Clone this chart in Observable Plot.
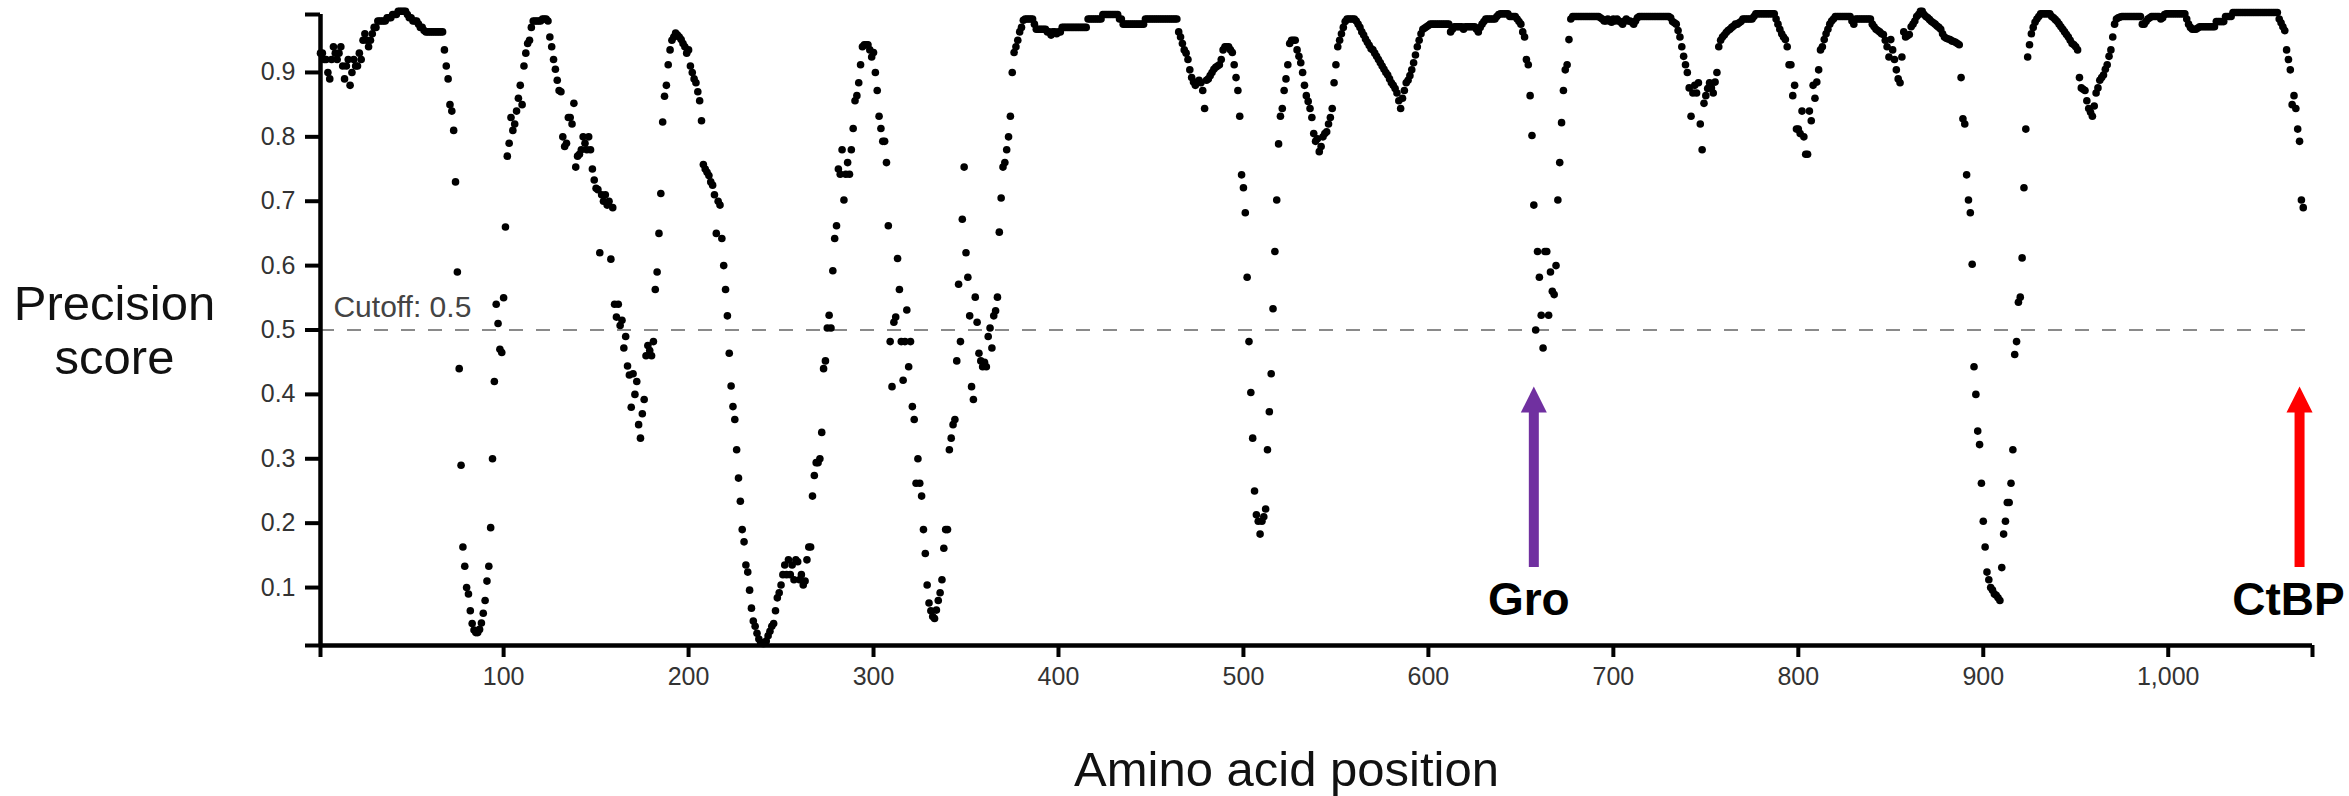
<!DOCTYPE html>
<html>
<head>
<meta charset="utf-8">
<script src="https://cdn.jsdelivr.net/npm/d3@7"></script>
<script src="https://cdn.jsdelivr.net/npm/@observablehq/plot@0.6"></script>
<style>
  html, body { margin: 0; padding: 0; background: #fff; }
  #chart svg { display: block; }
</style>
</head>
<body>
<div id="chart"></div>
<script>
// Precision score per amino acid position (position = index + 1)
const precision = [
.93,.93,.92,.92,.90,.89,.92,.94,.93,.92,
.93,.94,.91,.89,.91,.92,.88,.90,.92,.91,
.91,.93,.92,.95,.96,.95,.94,.95,.96,.97,
.97,.98,.98,.98,.98,.98,.985,.985,.985,.99,
.99,.99,.995,.995,.995,.995,.995,.99,.985,.985,
.98,.98,.98,.975,.97,.97,.965,.963,.963,.963,
.963,.963,.963,.963,.963,.963,.963,.935,.91,.89,
.85,.84,.81,.73,.59,.44,.29,.163,.133,.10,
.09,.064,.044,.034,.03,.03,.035,.045,.06,.08,
.11,.133,.193,.30,.42,.54,.51,.47,.465,.55,
.66,.77,.79,.83,.81,.82,.84,.86,.88,.85,
.91,.93,.945,.95,.97,.98,.98,.98,.98,.98,
.983,.983,.983,.98,.955,.94,.92,.905,.888,.872,
.87,.80,.785,.79,.83,.83,.82,.852,.753,.77,
.773,.78,.80,.79,.78,.80,.78,.75,.733,.72,
.718,.62,.71,.70,.71,.694,.70,.61,.69,.54,
.52,.54,.507,.515,.472,.49,.444,.43,.38,.432,
.40,.42,.353,.332,.37,.392,.46,.476,.468,.46,
.482,.563,.59,.65,.712,.823,.863,.88,.912,.935,
.95,.955,.961,.958,.955,.951,.945,.94,.93,.935,
.91,.90,.89,.884,.87,.856,.825,.757,.75,.745,
.74,.73,.725,.71,.65,.70,.694,.642,.60,.563,
.522,.464,.413,.381,.361,.314,.27,.234,.19,.171,
.135,.124,.096,.068,.048,.04,.029,.02,.015,.013,
.013,.017,.025,.032,.04,.044,.064,.084,.092,.104,
.12,.135,.12,.143,.12,.135,.112,.143,.14,.112,
.12,.104,.11,.143,.163,.163,.242,.274,.294,.294,
.30,.341,.44,.452,.503,.523,.503,.592,.642,.662,
.75,.742,.78,.702,.742,.76,.742,.78,.813,.856,
.864,.884,.912,.94,.943,.943,.943,.935,.924,.931,
.90,.872,.832,.813,.793,.793,.76,.662,.482,.412,
.512,.52,.611,.563,.482,.422,.482,.531,.443,.482,
.381,.361,.262,.30,.262,.242,.19,.153,.104,.076,
.064,.055,.052,.065,.08,.092,.112,.161,.19,.19,
.314,.332,.353,.361,.452,.571,.482,.672,.753,.62,
.582,.522,.412,.392,.551,.512,.464,.452,.443,.45,
.443,.49,.503,.472,.522,.53,.551,.652,.705,.753,
.76,.78,.80,.832,.90,.931,.94,.95,.963,.97,
.981,.983,.983,.983,.983,.983,.975,.967,.967,.967,
.967,.967,.967,.963,.963,.958,.963,.963,.96,.963,
.963,.97,.97,.97,.97,.97,.97,.97,.97,.97,
.97,.97,.97,.97,.97,.983,.983,.983,.983,.983,
.983,.983,.983,.99,.99,.99,.99,.99,.99,.99,
.99,.99,.983,.983,.975,.975,.975,.975,.975,.975,
.975,.975,.975,.975,.975,.975,.983,.983,.983,.983,
.983,.983,.983,.983,.983,.983,.983,.983,.983,.983,
.983,.983,.983,.983,.963,.955,.945,.935,.93,.92,
.904,.892,.885,.88,.885,.888,.884,.872,.844,.888,
.89,.895,.90,.905,.908,.91,.912,.92,.935,.94,
.94,.94,.935,.931,.912,.892,.872,.832,.741,.721,
.682,.582,.482,.403,.332,.25,.213,.203,.183,.203,
.21,.222,.314,.373,.432,.533,.622,.702,.789,.832,
.844,.872,.89,.912,.945,.95,.95,.95,.935,.925,
.915,.90,.88,.864,.855,.844,.83,.805,.793,.797,
.777,.785,.80,.805,.808,.82,.83,.844,.884,.912,
.94,.95,.96,.97,.979,.983,.983,.983,.983,.983,
.98,.975,.97,.963,.958,.952,.947,.942,.937,.935,
.93,.925,.92,.915,.91,.905,.90,.896,.89,.884,
.88,.875,.868,.856,.844,.86,.872,.884,.888,.895,
.904,.915,.927,.94,.95,.96,.967,.969,.971,.973,
.975,.975,.975,.975,.975,.975,.975,.975,.975,.975,
.975,.963,.967,.971,.971,.971,.971,.971,.967,.971,
.971,.971,.971,.971,.971,.967,.963,.97,.975,.979,
.983,.983,.983,.983,.983,.983,.987,.99,.991,.991,
.991,.991,.991,.987,.987,.987,.987,.983,.979,.975,
.963,.955,.92,.912,.864,.802,.694,.50,.622,.582,
.523,.472,.622,.622,.523,.59,.56,.555,.60,.702,
.76,.822,.872,.904,.912,.951,.983,.987,.987,.987,
.987,.987,.987,.987,.987,.987,.987,.987,.987,.987,
.987,.987,.985,.983,.98,.98,.983,.98,.978,.983,
.98,.983,.98,.978,.975,.98,.983,.98,.98,.978,
.975,.98,.985,.987,.987,.987,.987,.987,.987,.987,
.987,.987,.987,.987,.987,.987,.987,.987,.987,.987,
.985,.979,.977,.975,.965,.955,.94,.925,.912,.90,
.876,.832,.868,.88,.868,.884,.82,.78,.852,.864,
.875,.884,.876,.868,.885,.90,.94,.95,.955,.958,
.962,.965,.967,.97,.972,.975,.975,.977,.979,.983,
.983,.983,.983,.983,.983,.987,.991,.991,.991,.991,
.991,.991,.991,.991,.991,.991,.991,.983,.975,.967,
.96,.955,.951,.94,.912,.912,.864,.88,.812,.812,
.805,.84,.80,.773,.773,.84,.825,.88,.86,.885,
.904,.935,.94,.951,.96,.967,.975,.98,.983,.987,
.987,.987,.987,.987,.987,.987,.987,.987,.98,.975,
.983,.983,.983,.983,.983,.983,.983,.983,.983,.975,
.971,.967,.965,.963,.96,.959,.95,.94,.924,.951,
.935,.92,.904,.89,.884,.924,.963,.955,.957,.959,
.971,.975,.98,.987,.99,.995,.995,.99,.987,.985,
.982,.979,.977,.975,.972,.97,.967,.96,.955,.953,
.952,.951,.949,.948,.947,.945,.943,.892,.828,.82,
.741,.702,.682,.602,.443,.40,.343,.322,.262,.203,
.163,.124,.112,.10,.096,.09,.088,.084,.08,.131,
.183,.203,.232,.232,.262,.314,.462,.482,.543,.551,
.612,.721,.812,.924,.943,.96,.97,.978,.983,.987,
.991,.991,.991,.991,.991,.991,.987,.985,.982,.979,
.975,.971,.967,.963,.959,.955,.95,.945,.943,.94,
.935,.892,.876,.874,.872,.856,.844,.838,.832,.848,
.868,.876,.888,.892,.896,.905,.912,.925,.935,.955,
.975,.983,.985,.986,.987,.987,.987,.987,.987,.987,
.987,.987,.987,.987,.987,.975,.975,.979,.983,.985,
.987,.987,.987,.987,.987,.983,.985,.99,.991,.991,
.991,.991,.991,.991,.991,.991,.991,.991,.991,.983,
.975,.97,.967,.967,.967,.969,.971,.971,.971,.971,
.971,.971,.971,.971,.971,.979,.979,.979,.979,.979,
.987,.987,.987,.987,.993,.993,.993,.993,.993,.993,
.993,.993,.993,.993,.993,.993,.993,.993,.993,.993,
.993,.993,.993,.993,.993,.993,.993,.993,.993,.983,
.977,.971,.965,.935,.92,.904,.85,.864,.844,.812,
.793,.702,.69
];

const xDomain = [1, 1078];
const yDomain = [0.01, 0.99];
const xTickValues = [100, 200, 300, 400, 500, 600, 700, 800, 900, 1000];
const xTickLabels = ["100", "200", "300", "400", "500", "600", "700", "800", "900", "1,000"];
const yTickValues = [0.1, 0.2, 0.3, 0.4, 0.5, 0.6, 0.7, 0.8, 0.9];
const yTickLabels = ["0.1", "0.2", "0.3", "0.4", "0.5", "0.6", "0.7", "0.8", "0.9"];

const cutoff = 0.5;
const cutoffLabel = "Cutoff: 0.5";

const motifLabels = ["Gro", "CtBP"];
const motifPositions = [657, 1071];
const motifColors = ["#7030a0", "#ff0000"];
const arrowTail = 0.131, arrowHeadBase = 0.38, arrowHeadCenter = 0.392, motifLabelY = 0.081;

const points = precision.map((v, i) => ({pos: i + 1, score: v}));
const motifs = motifLabels.map((label, i) => ({label, pos: motifPositions[i], color: motifColors[i]}));

const headSymbol = {
  draw(context, size) {
    const s = Math.sqrt(size);
    context.moveTo(0, -s / 2);
    context.lineTo(s / 2, s / 2);
    context.lineTo(-s / 2, s / 2);
    context.closePath();
  }
};

const font = "'Liberation Sans', Arial, Helvetica, sans-serif";

const chart = Plot.plot({
  width: 2349,
  height: 796,
  marginLeft: 320,
  marginRight: 37,
  marginTop: 14,
  marginBottom: 151,
  x: {domain: xDomain, axis: null},
  y: {domain: yDomain, axis: null},
  color: {type: "identity"},
  style: {fontFamily: font, background: "white", color: "black", overflow: "visible"},
  marks: [
    Plot.ruleY([cutoff], {x1: xDomain[0], x2: 1076, stroke: "#8a8a8a", strokeWidth: 2, strokeDasharray: "14,13"}),
    Plot.text([cutoffLabel], {x: 8, y: 0.535, textAnchor: "start", fontSize: 30, fill: "#444"}),
    Plot.dot(points, {x: "pos", y: "score", r: 3.8, fill: "black", stroke: "none"}),
    // Y axis
    Plot.axisY([yDomain[0], ...yTickValues, yDomain[1]], {
      anchor: "left",
      tickFormat: d => { const k = yTickValues.indexOf(d); return k >= 0 ? yTickLabels[k] : ""; },
      tickSize: 15, tickPadding: 10, strokeWidth: 4, stroke: "black", fill: "#333",
      fontSize: 25, label: null
    }),
    Plot.ruleX([xDomain[0]], {y1: yDomain[0], y2: yDomain[1], strokeWidth: 4.5, stroke: "black"}),
    // X axis
    Plot.axisX([xDomain[0], ...xTickValues, xDomain[1]], {
      anchor: "bottom",
      tickFormat: d => { const k = xTickValues.indexOf(d); return k >= 0 ? xTickLabels[k] : ""; },
      tickSize: 12, tickPadding: 10, strokeWidth: 4, stroke: "black", fill: "#333",
      fontSize: 25, label: null
    }),
    Plot.ruleY([yDomain[0]], {x1: xDomain[0], x2: xDomain[1], strokeWidth: 4.5, stroke: "black"}),
    // Motif arrows
    Plot.ruleX(motifs, {x: "pos", y1: arrowTail, y2: arrowHeadBase, stroke: "color", strokeWidth: 10}),
    Plot.dot(motifs, {x: "pos", y: arrowHeadCenter, symbol: headSymbol, r: 14.7, fill: "color", stroke: "none"}),
    Plot.text([motifs[0]], {x: "pos", y: motifLabelY, text: "label", dx: -5, fontSize: 46, fontWeight: "bold", fill: "black"}),
    Plot.text([motifs[1]], {x: "pos", y: motifLabelY, text: "label", dx: -11, fontSize: 46, fontWeight: "bold", fill: "black"}),
    // Axis titles
    Plot.text(["Amino acid position"], {frameAnchor: "bottom", dy: 125, dx: -30, lineAnchor: "middle", textAnchor: "middle", fontSize: 49, fill: "#111"}),
    Plot.text(["Precision\nscore"], {frameAnchor: "left", dx: -206, lineAnchor: "middle", textAnchor: "middle", fontSize: 49, lineHeight: 1.1, fill: "#111"})
  ]
});

document.getElementById("chart").appendChild(chart);
</script>
</body>
</html>
